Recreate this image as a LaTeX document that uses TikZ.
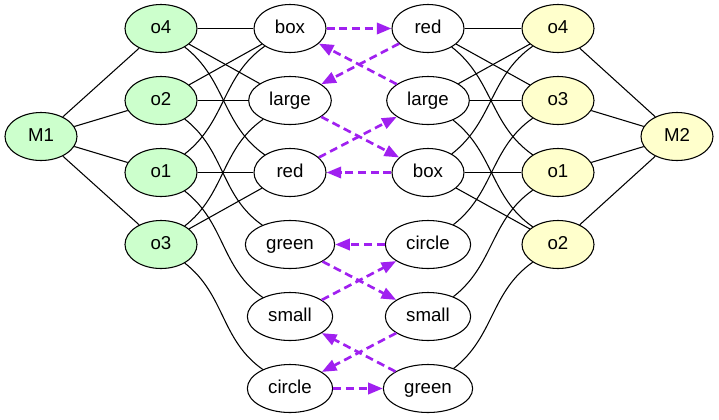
\documentclass[tikz,border=0pt]{standalone}
\usepackage{fontspec}
\setmainfont{Liberation Sans}
\usetikzlibrary{shapes.geometric,arrows.meta}
\definecolor{mgreen}{HTML}{CCFFCC}
\definecolor{myellow}{HTML}{FFFFCC}
\definecolor{mpurple}{HTML}{A020F0}
\def\cup{to[out=38,in=-145]}
\def\cdown{to[out=-38,in=145]}
\def\dlink{\draw[link]}
\def\dmatch{\draw[match]}

\begin{document}
\begin{tikzpicture}[x=0.75pt,y=-0.75pt,
    every node/.style={font=\fontsize{14pt}{16pt}\selectfont,text height=10pt,text depth=3pt},
    obj/.style={ellipse,draw,fill=white,line width=0.8pt,minimum width=54pt,minimum height=36pt,inner sep=0pt},
    lobj/.style={obj,fill=mgreen},
    robj/.style={obj,fill=myellow},
    link/.style={line width=0.8pt},
    match/.style={mpurple,line width=2pt,dash pattern=on 6pt off 3.5pt,-{Triangle[length=11pt,width=8.5pt]}}]
                \useasboundingbox (0,0) rectangle (719,419);
                % left model
                \node[lobj] (m1) at (41,136.5) {M1};
                \node[lobj] (lo4) at (161,28.5) {o4};
                \node[lobj] (lo2) at (161,100.5) {o2};
                \node[lobj] (lo1) at (161,172.5) {o1};
                \node[lobj] (lo3) at (161,244.5) {o3};
                \node[obj] (lbox) at (290,28.5) {box};
                \node[obj,minimum width=62pt] (llarge) at (290,100.5) {large};
                \node[obj] (lred) at (290,172.5) {red};
                \node[obj,minimum width=67pt] (lgreen) at (290,244.5) {green};
                \node[obj,minimum width=64pt] (lsmall) at (290,316.5) {small};
                \node[obj,minimum width=64pt] (lcircle) at (290,388.5) {circle};
                % right model
                \node[obj] (rred) at (428,28.5) {red};
                \node[obj,minimum width=62pt] (rlarge) at (428,100.5) {large};
                \node[obj] (rbox) at (428,172.5) {box};
                \node[obj,minimum width=64pt] (rcircle) at (428,244.5) {circle};
                \node[obj,minimum width=64pt] (rsmall) at (428,316.5) {small};
                \node[obj,minimum width=67pt] (rgreen) at (428,388.5) {green};
                \node[robj] (ro4) at (558,28.5) {o4};
                \node[robj] (ro3) at (558,100.5) {o3};
                \node[robj] (ro1) at (558,172.5) {o1};
                \node[robj] (ro2) at (558,244.5) {o2};
                \node[robj] (m2) at (677,136.5) {M2};
                % edges
                \dlink (m1) -- (lo4);
                \dlink (m1) -- (lo2);
                \dlink (m1) -- (lo1);
                \dlink (m1) -- (lo3);
                \dlink (lo4) -- (lbox);
                \dlink (lo4) -- (llarge);
                \dlink (lo4) \cdown (lred);
                \dlink (lo2) -- (lbox);
                \dlink (lo2) -- (llarge);
                \dlink (lo2) \cdown (lgreen);
                \dlink (lo1) \cup (lbox);
                \dlink (lo1) -- (lred);
                \dlink (lo1) \cdown (lsmall);
                \dlink (lo3) \cup (llarge);
                \dlink (lo3) -- (lred);
                \dlink (lo3) \cdown (lcircle);
                \dlink (rred) -- (ro4);
                \dlink (rred) -- (ro3);
                \dlink (rred) \cdown (ro1);
                \dlink (rlarge) -- (ro4);
                \dlink (rlarge) -- (ro3);
                \dlink (rlarge) \cdown (ro2);
                \dlink (rbox) \cup (ro4);
                \dlink (rbox) -- (ro1);
                \dlink (rbox) -- (ro2);
                \dlink (rcircle) \cup (ro3);
                \dlink (rsmall) \cup (ro1);
                \dlink (rgreen) \cup (ro2);
                \dlink (ro4) -- (m2);
                \dlink (ro3) -- (m2);
                \dlink (ro1) -- (m2);
                \dlink (ro2) -- (m2);
                % matches
                \dmatch (lbox) -- (rred);
                \dmatch (rred) -- (llarge);
                \dmatch (rlarge) -- (lbox);
                \dmatch (llarge) -- (rbox);
                \dmatch (lred) -- (rlarge);
                \dmatch (rbox) -- (lred);
                \dmatch (rcircle) -- (lgreen);
                \dmatch (lgreen) -- (rsmall);
                \dmatch (lsmall) -- (rcircle);
                \dmatch (rgreen) -- (lsmall);
                \dmatch (rsmall) -- (lcircle);
                \dmatch (lcircle) -- (rgreen);
\end{tikzpicture}
\end{document}
